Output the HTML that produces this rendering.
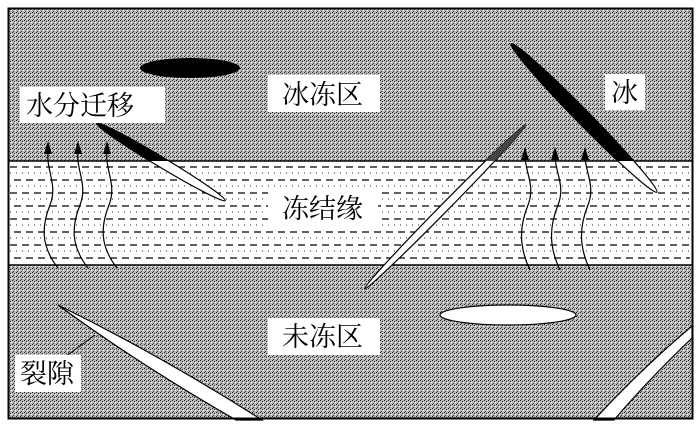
<!DOCTYPE html>
<html><head><meta charset="utf-8"><style>
html,body{margin:0;padding:0;background:#fff;}
svg{display:block;}
text{font-family:"Liberation Serif","Noto Serif CJK SC","Noto Sans CJK SC",serif;font-size:27px;fill:#000;}
</style></head><body>
<svg width="700" height="426" viewBox="0 0 700 426" xmlns="http://www.w3.org/2000/svg">
<defs>
<pattern id="st" width="4" height="4" patternUnits="userSpaceOnUse">
<rect width="4" height="4" fill="#b8b8b8"/>
<rect x="0" y="0" width="1" height="1" fill="#222"/>
<rect x="2" y="1" width="1" height="1" fill="#333"/>
<rect x="1" y="3" width="1" height="1" fill="#444"/>
<rect x="3" y="2" width="1" height="1" fill="#fff"/>
</pattern>
<clipPath id="top"><rect x="0" y="0" width="700" height="161"/></clipPath>
</defs>
<rect x="0" y="0" width="700" height="426" fill="#fff"/>
<rect x="9" y="9" width="683" height="152" fill="url(#st)"/>
<rect x="9" y="265" width="683" height="153" fill="url(#st)"/>
<g stroke="#000" stroke-width="1.2">
<g stroke-dasharray="7 5">
<line x1="10" y1="167" x2="690" y2="167"/><line x1="14" y1="180" x2="690" y2="180"/>
<line x1="10" y1="193" x2="690" y2="193"/><line x1="14" y1="206" x2="690" y2="206"/>
<line x1="10" y1="219" x2="690" y2="219"/><line x1="14" y1="232" x2="690" y2="232"/>
<line x1="10" y1="245" x2="690" y2="245"/><line x1="14" y1="258" x2="690" y2="258"/>
</g>
<g stroke-dasharray="1 5" stroke="#555">
<line x1="10" y1="173" x2="690" y2="173"/><line x1="10" y1="186" x2="690" y2="186"/>
<line x1="10" y1="199" x2="690" y2="199"/><line x1="10" y1="212" x2="690" y2="212"/>
<line x1="10" y1="225" x2="690" y2="225"/><line x1="10" y1="238" x2="690" y2="238"/>
<line x1="10" y1="251" x2="690" y2="251"/>
</g>
</g>
<line x1="9" y1="161" x2="692" y2="161" stroke="#000" stroke-width="1.5"/>
<line x1="9" y1="265" x2="692" y2="265" stroke="#000" stroke-width="1.5"/>
<ellipse cx="190" cy="68" rx="50" ry="10" fill="#000"/>
<g transform="translate(161,162) rotate(31)">
<ellipse cx="0" cy="0" rx="75" ry="5" fill="#fff" stroke="#000" stroke-width="1.2"/>
</g>
<g clip-path="url(#top)"><g transform="translate(161,162) rotate(31)"><ellipse cx="0" cy="0" rx="75" ry="5" fill="#000"/></g></g>
<g transform="translate(584,118) rotate(45.5)">
<ellipse cx="0" cy="0" rx="104" ry="7" fill="#fff" stroke="#000" stroke-width="1.2"/>
</g>
<g clip-path="url(#top)"><g transform="translate(584,118) rotate(45.5)"><ellipse cx="0" cy="0" rx="104" ry="7" fill="#000"/></g></g>
<g transform="translate(445,207) rotate(-45.5)">
<ellipse cx="0" cy="0" rx="115" ry="4" fill="#fff" stroke="#000" stroke-width="1.2"/>
</g>
<g clip-path="url(#top)"><g transform="translate(445,207) rotate(-45.5)"><ellipse cx="0" cy="0" rx="115" ry="4" fill="#444"/></g></g>
<ellipse cx="508" cy="315" rx="68" ry="10" fill="#fff" stroke="#000" stroke-width="1.2"/>
<path d="M58,305 Q160,355 262,420 L236,420 Q140,365 58,305 Z" fill="#fff" stroke="#000" stroke-width="1.2"/>
<path d="M692,326 L692,338 Q650,378 614,420 L594,420 Q640,370 692,326 Z" fill="#fff" stroke="#000" stroke-width="1.2"/>
<line x1="58" y1="362" x2="95" y2="335" stroke="#000" stroke-width="1"/>
<g fill="none" stroke="#000" stroke-width="1.2">
<path d="M58,268 C40,245 42,225 50,205 C58,185 46,170 48,152"/>
<path d="M88,268 C70,245 72,225 80,205 C88,185 76,170 78,152"/>
<path d="M117,268 C99,245 101,225 109,205 C117,185 105,170 107,152"/>
<path d="M530,270 C518,245 520,225 528,205 C536,185 524,170 525,154"/>
<path d="M560,270 C548,245 550,225 558,205 C566,185 554,170 555,154"/>
<path d="M590,270 C578,245 580,225 588,205 C596,185 584,170 585,154"/>
</g>
<g fill="#000">
<path d="M48,141 L44,154 L52,154 Z"/>
<path d="M78,141 L74,154 L82,154 Z"/>
<path d="M107,141 L103,154 L111,154 Z"/>
<path d="M525,147 L521,160 L529,160 Z"/>
<path d="M555,147 L551,160 L559,160 Z"/>
<path d="M585,147 L581,160 L589,160 Z"/>
</g>
<rect x="20" y="87" width="145" height="36" fill="#fff"/>
<text x="26" y="115">水分迁移</text>
<rect x="268" y="75" width="112" height="37" fill="#fff"/>
<text x="282" y="104">冰冻区</text>
<rect x="605" y="74" width="40" height="36" fill="#fff"/>
<text x="611" y="102">冰</text>
<rect x="268" y="190" width="110" height="36" fill="#fff"/>
<text x="282" y="218">冻结缘</text>
<rect x="268" y="318" width="112" height="37" fill="#fff"/>
<text x="282" y="346">未冻区</text>
<rect x="15" y="355" width="66" height="37" fill="#fff"/>
<text x="20" y="383">裂隙</text>
<rect x="8.5" y="8.5" width="684" height="410" fill="none" stroke="#000" stroke-width="2"/>
</svg>
</body></html>
